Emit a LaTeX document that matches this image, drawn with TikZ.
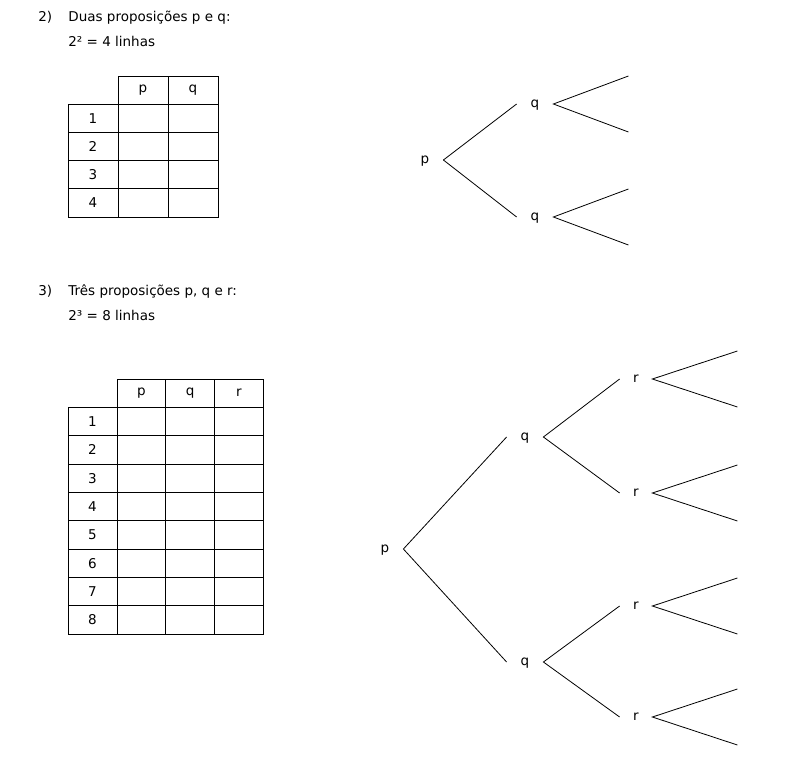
\documentclass[tikz,border=0pt]{standalone}
\usepackage{fontspec}
\setmainfont{DejaVu Sans}
\usetikzlibrary{calc}
\tikzset{
  txt/.style={inner sep=0pt, anchor=base west},
  lbl/.style={inner sep=0pt, minimum width=36pt, text height=1.3ex, text depth=0pt},
  rlbl/.style={lbl, minimum width=32pt},
  cell/.style={inner sep=0pt}
}
\begin{document}
\begin{tikzpicture}[x=1pt, y=-1pt, line width=0.8pt,
  every node/.style={font=\fontsize{13.5}{16}\selectfont}]
			%%%%% START %%%%%
			\useasboundingbox (0,0) rectangle (794,768);
			
			% item 2
			\node[txt] (n2) at (38, 22) {2)};
			\node[txt] (t2) at (68, 22) {Duas proposições p e q:};
			\node[txt] (l2) at (68, 46) {2² = 4 linhas};
			
			\draw (118, 76) rectangle ++(50, 28.25);
			\draw (168, 76) rectangle ++(50, 28.25);
			\node[cell] (hp) at (143, 90) {p};
			\node[cell] (hq) at (193, 90) {q};
			\foreach \r in {1,...,4} {
				\pgfmathsetmacro{\yy}{104+28.25*(\r-1)}
				\draw (68, \yy) rectangle ++(50, 28.25);
				\draw (118, \yy) rectangle ++(50, 28.25);
				\draw (168, \yy) rectangle ++(50, 28.25);
				\node[cell] (a\r) at (93, \yy+14.1) {\r};
			}
			
			\node[lbl] (p1) at (425, 160) {p};
			\node[lbl] (q1) at (535, 104) {q};
			\node[lbl] (q2) at (535, 217) {q};
			\draw (p1.east) -- (q1.west);
			\draw (p1.east) -- (q2.west);
			\foreach \n in {q1,q2} {
				\path (\n.east) ++(75, -28) coordinate (\n-hi);
				\path (\n.east) ++(75, 28) coordinate (\n-lo);
				\draw (\n-hi) -- (\n.east) -- (\n-lo);
			}
			
			% item 3
			\node[txt] (n3) at (38, 295) {3)};
			\node[txt] (t3) at (68, 295) {Três proposições p, q e r:};
			\node[txt] (l3) at (68, 320) {2³ = 8 linhas};
			
			\draw (117, 379) rectangle ++(48.75, 28.33);
			\draw (165.75, 379) rectangle ++(48.75, 28.33);
			\draw (214.5, 379) rectangle ++(48.75, 28.33);
			\node[cell] (hp3) at (141.4, 393) {p};
			\node[cell] (hq3) at (190.1, 393) {q};
			\node[cell] (hr3) at (238.9, 393) {r};
			\foreach \r in {1,...,8} {
				\pgfmathsetmacro{\yy}{407.33+28.33*(\r-1)}
				\draw (68, \yy) rectangle ++(49, 28.33);
				\draw (117, \yy) rectangle ++(48.75, 28.33);
				\draw (165.75, \yy) rectangle ++(48.75, 28.33);
				\draw (214.5, \yy) rectangle ++(48.75, 28.33);
				\node[cell] (b\r) at (92.5, \yy+14.2) {\r};
			}
			
			\node[lbl] (p3) at (385, 549) {p};
			\node[lbl] (qa) at (525, 437) {q};
			\node[lbl] (qb) at (525, 662) {q};
			\node[rlbl] (ra) at (636, 379) {r};
			\node[rlbl] (rb) at (636, 493) {r};
			\node[rlbl] (rc) at (636, 606) {r};
			\node[rlbl] (rd) at (636, 717) {r};
			\draw (qa.west) -- (p3.east) -- (qb.west);
			\draw (ra.west) -- (qa.east) -- (rb.west);
			\draw (rc.west) -- (qb.east) -- (rd.west);
			\foreach \n in {ra,rb,rc,rd} {
				\path (\n.east) ++(85, -28) coordinate (\n-hi);
				\path (\n.east) ++(85, 28) coordinate (\n-lo);
				\draw (\n-hi) -- (\n.east) -- (\n-lo);
			}
			%%%%% END %%%%%
\end{tikzpicture}
\end{document}
